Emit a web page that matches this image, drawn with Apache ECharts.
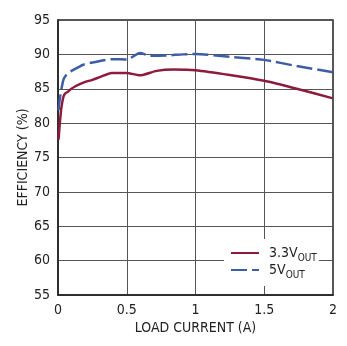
<!DOCTYPE html>
<html>
<head>
<meta charset="utf-8">
<script src="https://cdn.jsdelivr.net/npm/echarts@6/dist/echarts.min.js"></script>
<style>
  html, body { margin: 0; padding: 0; background: #fff; }
  #chart { width: 347px; height: 346px; }
</style>
</head>
<body>
<div id="chart"></div>
<script>
// Efficiency vs load current for the two output voltages
const load33 = [0.004, 0.015, 0.025, 0.039, 0.051, 0.075, 0.09, 0.13, 0.184, 0.25, 0.305, 0.39, 0.5, 0.596, 0.718, 0.84, 1.0, 1.25, 1.5, 1.736, 2.0];
const eff33  = [77.6, 80.4, 82.3, 83.8, 84.3, 84.6, 84.9, 85.4, 85.9, 86.3, 86.7, 87.3, 87.3, 86.95, 87.6, 87.8, 87.7, 87.0, 86.15, 85.0, 83.6];
const load5  = [0.004, 0.015, 0.039, 0.06, 0.09, 0.136, 0.184, 0.305, 0.4, 0.5, 0.596, 0.67, 0.79, 0.91, 1.0, 1.25, 1.5, 1.736, 2.0];
const eff5   = [81.9, 83.8, 86.3, 87.0, 87.5, 88.0, 88.5, 89.05, 89.3, 89.25, 90.2, 89.8, 89.85, 90.0, 90.05, 89.65, 89.2, 88.3, 87.4];
const xTicks = [0, 0.5, 1, 1.5, 2];
const yTicks = [55, 60, 65, 70, 75, 80, 85, 90, 95];

const FONT = "'DejaVu Sans Condensed', 'Liberation Sans', sans-serif";
const RED = '#8E1B3E';
const BLUE = '#3F5DA5';

const pairs = (xs, ys) => xs.map((x, i) => [x, ys[i]]);

const chart = echarts.init(document.getElementById('chart'), null, { renderer: 'canvas' });
chart.setOption({
  backgroundColor: '#fff',
  animation: false,
  grid: { left: 58, right: 14, top: 20, bottom: 51, show: true, borderColor: '#222', borderWidth: 1.5 },
  xAxis: {
    type: 'value',
    min: xTicks[0], max: xTicks[xTicks.length - 1], interval: 0.5,
    name: 'LOAD CURRENT (A)', nameLocation: 'middle', nameGap: 26, nameMoveOverlap: false,
    nameTextStyle: { fontFamily: FONT, fontSize: 14, color: '#222' },
    axisLine: { show: true, lineStyle: { color: '#222', width: 1.5 } },
    axisTick: { show: false },
    axisLabel: { fontFamily: FONT, fontSize: 14, color: '#222', margin: 8,
      formatter: v => String(v) },
    splitLine: { show: true, lineStyle: { color: '#555', width: 1 } }
  },
  yAxis: {
    type: 'value',
    min: yTicks[0], max: yTicks[yTicks.length - 1], interval: 5,
    name: 'EFFICIENCY (%)', nameLocation: 'middle', nameGap: 28, nameRotate: 90, nameMoveOverlap: false,
    nameTextStyle: { fontFamily: FONT, fontSize: 14, color: '#222' },
    axisLine: { show: true, lineStyle: { color: '#222', width: 1.5 } },
    axisTick: { show: false },
    axisLabel: { fontFamily: FONT, fontSize: 14, color: '#222', margin: 8 },
    splitLine: { show: true, lineStyle: { color: '#555', width: 1 } }
  },
  legend: {
    orient: 'vertical',
    left: 224, top: 239,
    padding: [7, 2, 6, 6],
    backgroundColor: '#fff',
    itemWidth: 28, itemHeight: 14, itemGap: 0,
    itemStyle: { opacity: 0 },
    data: ['3.3V', '5V'],
    formatter: name => '{v|' + name + '}{s|OUT}',
    textStyle: {
      rich: {
        v: { fontFamily: FONT, fontSize: 14, lineHeight: 14, color: '#222', padding: [0, 0, 0, 5], verticalAlign: 'top' },
        s: { fontFamily: FONT, fontSize: 10, lineHeight: 10, color: '#222', padding: [7, 0, 0, 0], verticalAlign: 'top' }
      }
    }
  },
  series: [
    {
      name: '3.3V', type: 'line', data: pairs(load33, eff33),
      showSymbol: false, symbol: 'none', smooth: 0.2,
      lineStyle: { color: RED, width: 2.5 }, itemStyle: { color: RED }
    },
    {
      name: '5V', type: 'line', data: pairs(load5, eff5),
      showSymbol: false, symbol: 'none', smooth: 0.2,
      lineStyle: { color: BLUE, width: 2.5, type: [16, 5] }, itemStyle: { color: BLUE }
    }
  ]
});
</script>
</body>
</html>
